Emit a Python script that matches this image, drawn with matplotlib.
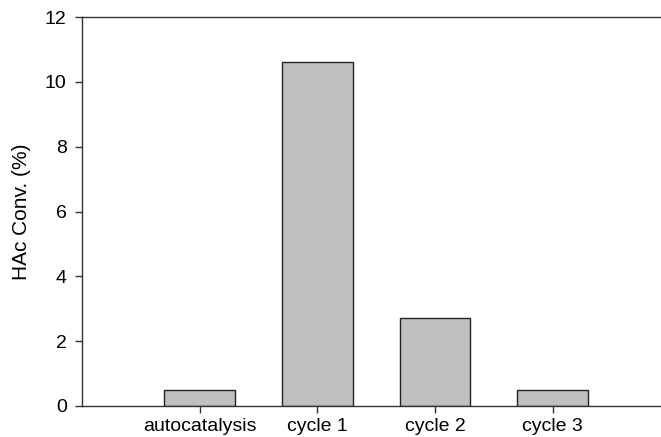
import numpy as np
import matplotlib.pyplot as plt

plt.rcParams['font.family'] = ['Liberation Sans', 'DejaVu Sans']

categories = ['autocatalysis', 'cycle 1', 'cycle 2', 'cycle 3']
conversion = [0.5, 10.6, 2.7, 0.5]

fig = plt.figure(figsize=(6.61, 4.37), dpi=100)
ax = fig.add_axes([0.124, 0.071, 0.876, 0.890])

x = np.arange(len(categories))
ax.bar(x, conversion, width=0.6, color='#c0c0c0', edgecolor='#222222', linewidth=1.0)

ax.set_xlim(-1, 3.92)
ax.set_ylim(0, 12)
ax.set_yticks(np.arange(0, 13, 2))
ax.set_xticks(x)
ax.set_xticklabels(categories)
ax.set_ylabel('HAc Conv. (%)', fontsize=15)
ax.yaxis.set_label_coords(-0.088, 0.5)

ax.spines['right'].set_visible(False)
for s in ['left', 'top', 'bottom']:
    ax.spines[s].set_color('#333333')
    ax.spines[s].set_linewidth(1.0)
ax.tick_params(axis='both', direction='out', length=5, width=1, color='#333333', labelsize=14)
ax.tick_params(axis='y', pad=6)
ax.tick_params(axis='x', pad=4)

fig.savefig('out.png', dpi=100)
